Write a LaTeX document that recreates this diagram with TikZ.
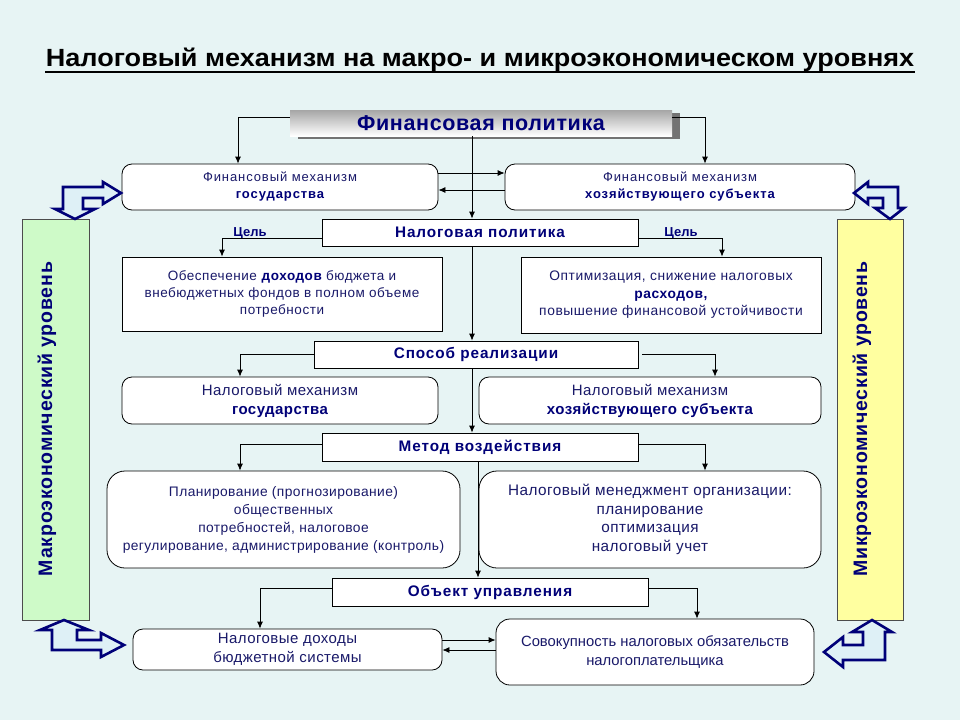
\documentclass[tikz,border=0pt]{standalone}
\usepackage{fontspec}
\setmainfont{Liberation Sans}
\usetikzlibrary{arrows.meta}
\definecolor{bg}{RGB}{231,244,244}
\definecolor{tnavy}{RGB}{25,25,105}
\definecolor{bnavy}{RGB}{0,0,120}
\definecolor{macrog}{RGB}{206,250,200}
\definecolor{microy}{RGB}{255,255,160}
\definecolor{blockfill}{RGB}{222,240,246}
\newcommand{\fsz}[2]{\fontsize{#1}{#2}\selectfont}
\newcommand{\bn}[1]{\textbf{\color{bnavy}#1}}
\begin{document}
\begin{tikzpicture}[x=1pt,y=-1pt,
  box/.style={draw=black, line width=0.8pt, fill=white, align=center, inner sep=0pt, text=tnavy},
  rbox/.style={box, rounded corners=10pt},
  hdr/.style={box, text=bnavy, font={\fsz{15.3}{17}\bfseries\addfontfeatures{LetterSpace=6}}},
  conn/.style={draw=black, line width=0.8pt, -{Latex[length=7pt,width=6pt]}},
  goal/.style={text=bnavy, font={\fsz{13}{15}\bfseries}, inner sep=0pt},
  side/.style={draw=black!70, line width=0.8pt, inner sep=0pt},
  sidetext/.style={rotate=90, text=bnavy, font={\fsz{19.5}{22}\bfseries\addfontfeatures{LetterSpace=4}}},
  blockarrow/.style={draw=bnavy, line width=2.6pt, fill=blockfill, line join=miter}
]
\fill[bg] (0,0) rectangle (960,720);
\useasboundingbox (0,0) rectangle (960,720);

% title
\node[inner sep=0pt, anchor=base] (title) at (480,66) {\resizebox{868pt}{18.5pt}{\bfseries Налоговый механизм на макро- и микроэкономическом уровнях}};
\draw[line width=2pt] (45,72) -- (915,72);

% reference coordinates for central lines
\coordinate (c1) at (472,0);
\coordinate (c2) at (478,0);

% financial policy
\fill[black!55] (298,113) rectangle (680,139);
\node[draw=none, top color=black!35, bottom color=white, minimum width=382pt, minimum height=26pt, inner sep=0pt,
  text=bnavy, font={\fsz{21.5}{24}\bfseries\addfontfeatures{LetterSpace=3}}] (fp) at (481,123) {Финансовая политика};

% financial mechanisms
\node[rbox, minimum width=316pt, minimum height=46pt, font={\fsz{13}{17}\addfontfeatures{LetterSpace=7}}] (fmg) at (280,187) {Финансовый механизм\\\bn{государства}};
\node[rbox, minimum width=350pt, minimum height=46pt, font={\fsz{13}{17}\addfontfeatures{LetterSpace=7}}] (fmh) at (680,187) {Финансовый механизм\\\bn{хозяйствующего субъекта}};

% tax policy
\node[hdr, minimum width=316pt, minimum height=27pt] (np) at (480,232.5) {Налоговая политика};
\node[goal, anchor=base] (cel1) at (250,236) {Цель};
\node[goal, anchor=base] (cel2) at (681,236) {Цель};

\node[box, minimum width=320pt, minimum height=74pt, font={\fsz{13.5}{17}\addfontfeatures{LetterSpace=4}}] (ob) at (282,294) {Обеспечение \bn{доходов} бюджета и\\внебюджетных фондов в полном объеме\\потребности};
\node[box, minimum width=300pt, minimum height=76pt, font={\fsz{13.8}{17.5}\addfontfeatures{LetterSpace=4}}] (opt) at (671,295) {Оптимизация, снижение налоговых\\\bn{расходов,}\\повышение финансовой устойчивости};

% method of realisation
\node[hdr, minimum width=324pt, minimum height=27pt] (sr) at (476,354.5) {Способ реализации};
\node[rbox, minimum width=316pt, minimum height=47pt, font={\fsz{15}{19}\addfontfeatures{LetterSpace=3}}] (nmg) at (280,400.5) {Налоговый механизм\\\bn{государства}};
\node[rbox, minimum width=342pt, minimum height=47pt, font={\fsz{15}{19}\addfontfeatures{LetterSpace=3}}] (nmh) at (650,400.5) {Налоговый механизм\\\bn{хозяйствующего субъекта}};

% method of influence
\node[hdr, minimum width=316pt, minimum height=28pt] (mv) at (480,447) {Метод воздействия};
\node[rbox, rounded corners=18pt, minimum width=353pt, minimum height=97pt, font={\fsz{13.8}{18}\addfontfeatures{LetterSpace=3}}] (pl) at (283.5,519.5) {Планирование (прогнозирование)\\общественных\\потребностей, налоговое\\регулирование, администрирование (контроль)};
\node[rbox, rounded corners=18pt, minimum width=342pt, minimum height=97pt, font={\fsz{15.3}{18.5}\addfontfeatures{LetterSpace=3}}] (nm) at (650,519.5) {Налоговый менеджмент организации:\\планирование\\оптимизация\\налоговый учет};

% object of management
\node[hdr, minimum width=316pt, minimum height=28pt] (ou) at (490,592) {Объект управления};
\node[rbox, minimum width=309pt, minimum height=41pt, font={\fsz{15}{19}\addfontfeatures{LetterSpace=3}}] (nd) at (287.5,649.5) {Налоговые доходы\\бюджетной системы};
\node[rbox, rounded corners=14pt, minimum width=318pt, minimum height=66pt, font={\fsz{14.8}{19}}] (sov) at (655,652) {Совокупность налоговых обязательств\\налогоплательщика};

% side bars
\node[side, fill=macrog, minimum width=67pt, minimum height=401pt] (macro) at (55.5,419.5) {};
\node[sidetext] (macrot) at (47,419) {Макроэкономический уровень};
\node[side, fill=microy, minimum width=66pt, minimum height=401pt] (micro) at (870,419.5) {};
\node[sidetext] (microt) at (862,419) {Микроэкономический уровень};

% connectors
\draw[conn] ([yshift=6pt]fp.west) -| ([xshift=-42pt]fmg.north);
\draw[conn] ([yshift=6pt]fp.east) -| ([xshift=25pt]fmh.north);
\draw[conn] (fp.south -| c1) -- (np.north -| c1);
\draw[conn] ([yshift=14pt]fmg.east) -- ([yshift=14pt]fmh.west);
\draw[conn] ([yshift=-3pt]fmh.west) -- ([yshift=-3pt]fmg.east);
\draw[conn] ([yshift=-6pt]np.west) -| ([xshift=-60pt]ob.north);
\draw[conn] ([yshift=-6pt]np.east) -| ([xshift=51pt]opt.north);
\draw[conn] (np.south -| c1) -- (sr.north -| c1);
\draw[conn] (sr.west) -| ([xshift=-40pt]nmg.north);
\draw[conn] ([xshift=4pt]sr.east) -| ([xshift=65pt]nmh.north);
\draw[conn] (sr.south -| c1) -- (mv.north -| c1);
\draw[conn] ([yshift=3pt]mv.west) -| ([xshift=-43.5pt]pl.north);
\draw[conn] ([yshift=3pt]mv.east) -| ([xshift=55pt]nm.north);
\draw[conn] (mv.south -| c2) -- (ou.north -| c2);
\draw[conn] ([yshift=4pt]ou.west) -| ([xshift=-27.5pt]nd.north);
\draw[conn] ([yshift=4pt]ou.east) -| ([xshift=42pt]sov.north);
\draw[conn] ([yshift=9.5pt]nd.east) -- ([yshift=9.5pt]nd.east -| sov.west);
\draw[conn] ([yshift=-0.5pt]nd.east -| sov.west) -- ([yshift=-0.5pt]nd.east);

% bent block arrows
\draw[blockarrow] (63,209) -- (63,187) -- (103,187) -- (103,182) -- (121,193) -- (103,204) -- (103,198) -- (83,198) -- (83,209) -- (95,209) -- (75,219) -- (55,209) -- cycle;
\draw[blockarrow] (854,193) -- (868,182) -- (868,187) -- (898,187) -- (898,208) -- (904,208) -- (890,219) -- (875,208) -- (883,208) -- (883,198) -- (868,198) -- (868,204) -- cycle;
\draw[blockarrow] (64,620) -- (89,630) -- (77,630) -- (77,640) -- (101,640) -- (101,633) -- (124,645) -- (101,657) -- (101,650) -- (52,650) -- (52,630) -- (40,630) -- cycle;
\draw[blockarrow] (872,620) -- (892,632) -- (885,632) -- (885,660) -- (843,660) -- (843,667) -- (824,652) -- (843,637) -- (843,645) -- (863,645) -- (863,632) -- (852,632) -- cycle;
\end{tikzpicture}
\end{document}
